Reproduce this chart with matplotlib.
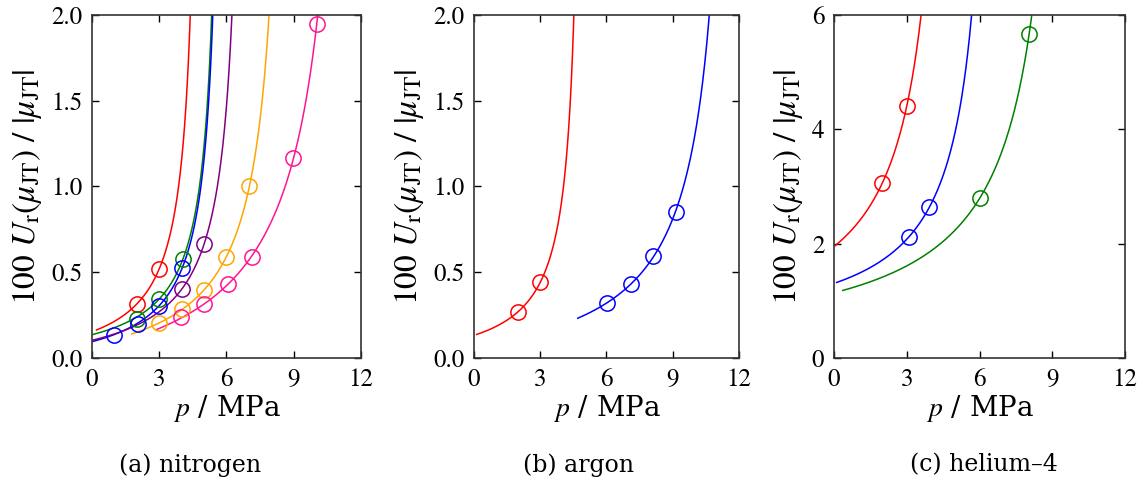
import numpy as np
import matplotlib
matplotlib.use("Agg")
import matplotlib.pyplot as plt

plt.rcParams["font.family"] = "STIXGeneral"
plt.rcParams["mathtext.fontset"] = "stix"

# --- (a) nitrogen: measured points (p / MPa, 100 Ur/|muJT|)
n2_colors = ["red", "green", "blue", "purple", "orange", "deeppink"]
n2_p = [
    [2.0, 3.0],
    [2.0, 3.0, 4.05],
    [0.98, 2.04, 3.0, 4.02],
    [4.0, 5.0],
    [3.0, 4.0, 5.0, 6.0, 7.02],
    [3.98, 5.0, 6.08, 7.13, 8.99, 10.03],
]
n2_u = [
    [0.315, 0.52],
    [0.227, 0.344, 0.575],
    [0.134, 0.20, 0.305, 0.523],
    [0.40, 0.663],
    [0.206, 0.284, 0.397, 0.59, 1.0],
    [0.237, 0.315, 0.431, 0.59, 1.164, 1.95],
]
# fitted curves u = A / (pc - p) + B, drawn from p_start
n2_fit = [
    # p_start, pc, A, B
    (0.2, 4.95, 1.18, -0.085),
    (0.05, 5.92, 1.20, -0.067),
    (0.05, 5.98, 1.25, -0.114),
    (0.0, 6.97, 1.54, -0.118),
    (1.77, 8.93, 2.24, -0.173),
    (2.89, 12.0, 4.485, -0.326),
]

# --- (b) argon
ar_colors = ["red", "blue"]
ar_p = [[2.0, 3.0], [6.04, 7.09, 8.12, 9.13]]
ar_u = [[0.27, 0.441], [0.323, 0.431, 0.595, 0.853]]
ar_fit = [
    (0.12, 5.03, 1.052, -0.077),
    (4.7, 12.03, 2.99, -0.176),
]

# --- (c) helium-4
he_colors = ["red", "blue", "green"]
he_p = [[1.99, 3.0], [3.09, 3.91], [6.0, 8.04]]
he_u = [[3.06, 4.41], [2.12, 2.64], [2.79, 5.67]]
he_fit = [
    (0.04, 5.15, 9.08, 0.186),
    (0.11, 6.88, 6.88, 0.305),
    (0.36, 10.0, 11.0, 0.04),
]

panels = [
    dict(name="(a) nitrogen", colors=n2_colors, p=n2_p, u=n2_u, fit=n2_fit,
         ylim=(0, 2.0), yticks=[0, 0.5, 1.0, 1.5, 2.0], yfmt="{:.1f}",
         rect=[0.0805, 0.2664, 0.2353, 0.7029], cap_x=0.166),
    dict(name="(b) argon", colors=ar_colors, p=ar_p, u=ar_u, fit=ar_fit,
         ylim=(0, 2.0), yticks=[0, 0.5, 1.0, 1.5, 2.0], yfmt="{:.1f}",
         rect=[0.4147, 0.2664, 0.2318, 0.7029], cap_x=0.506),
    dict(name="(c) helium\u20134", colors=he_colors, p=he_p, u=he_u, fit=he_fit,
         ylim=(0, 6), yticks=[0, 2, 4, 6], yfmt="{:d}",
         rect=[0.7297, 0.2664, 0.2546, 0.7029], cap_x=0.861),
]


def add_curve(ax, fit, color, ymax):
    p0, pc, a, b = fit
    p_end = pc - a / (ymax * 1.05 - b)
    p = np.linspace(p0, p_end, 600)
    ax.plot(p, a / (pc - p) + b, color=color, lw=1.1, zorder=2)


fig = plt.figure(figsize=(11.43, 4.88), dpi=100)

for pan in panels:
    ax = fig.add_axes(pan["rect"])
    ymax = pan["ylim"][1]
    for c, p, u, f in zip(pan["colors"], pan["p"], pan["u"], pan["fit"]):
        add_curve(ax, f, c, ymax)
        ax.plot(p, u, linestyle="", marker="o", ms=11, mfc="none",
                mec=c, mew=1.1, zorder=3)
    ax.set_xlim(0, 12)
    ax.set_ylim(*pan["ylim"])
    ax.set_xticks([0, 3, 6, 9, 12])
    ax.set_yticks(pan["yticks"])
    ax.set_yticklabels([pan["yfmt"].format(t) for t in pan["yticks"]])
    ax.tick_params(direction="in", top=True, right=True, labelsize=18,
                   length=5, width=1, pad=7)
    for s in ax.spines.values():
        s.set_linewidth(1.2)
        s.set_color("#333333")
    ax.set_xlabel(r"$p$ / MPa", fontsize=20, labelpad=1,
                  family=["DejaVu Serif"])
    ax.set_ylabel(r"$100\ U_\mathrm{r}(\mu_\mathrm{JT})\ /\ |\mu_\mathrm{JT}|$",
                  fontsize=24, labelpad=5)
    fig.text(pan["cap_x"], 0.047, pan["name"], ha="center", va="center",
             fontsize=17, family="DejaVu Serif")

fig.savefig("out.png", dpi=100)
